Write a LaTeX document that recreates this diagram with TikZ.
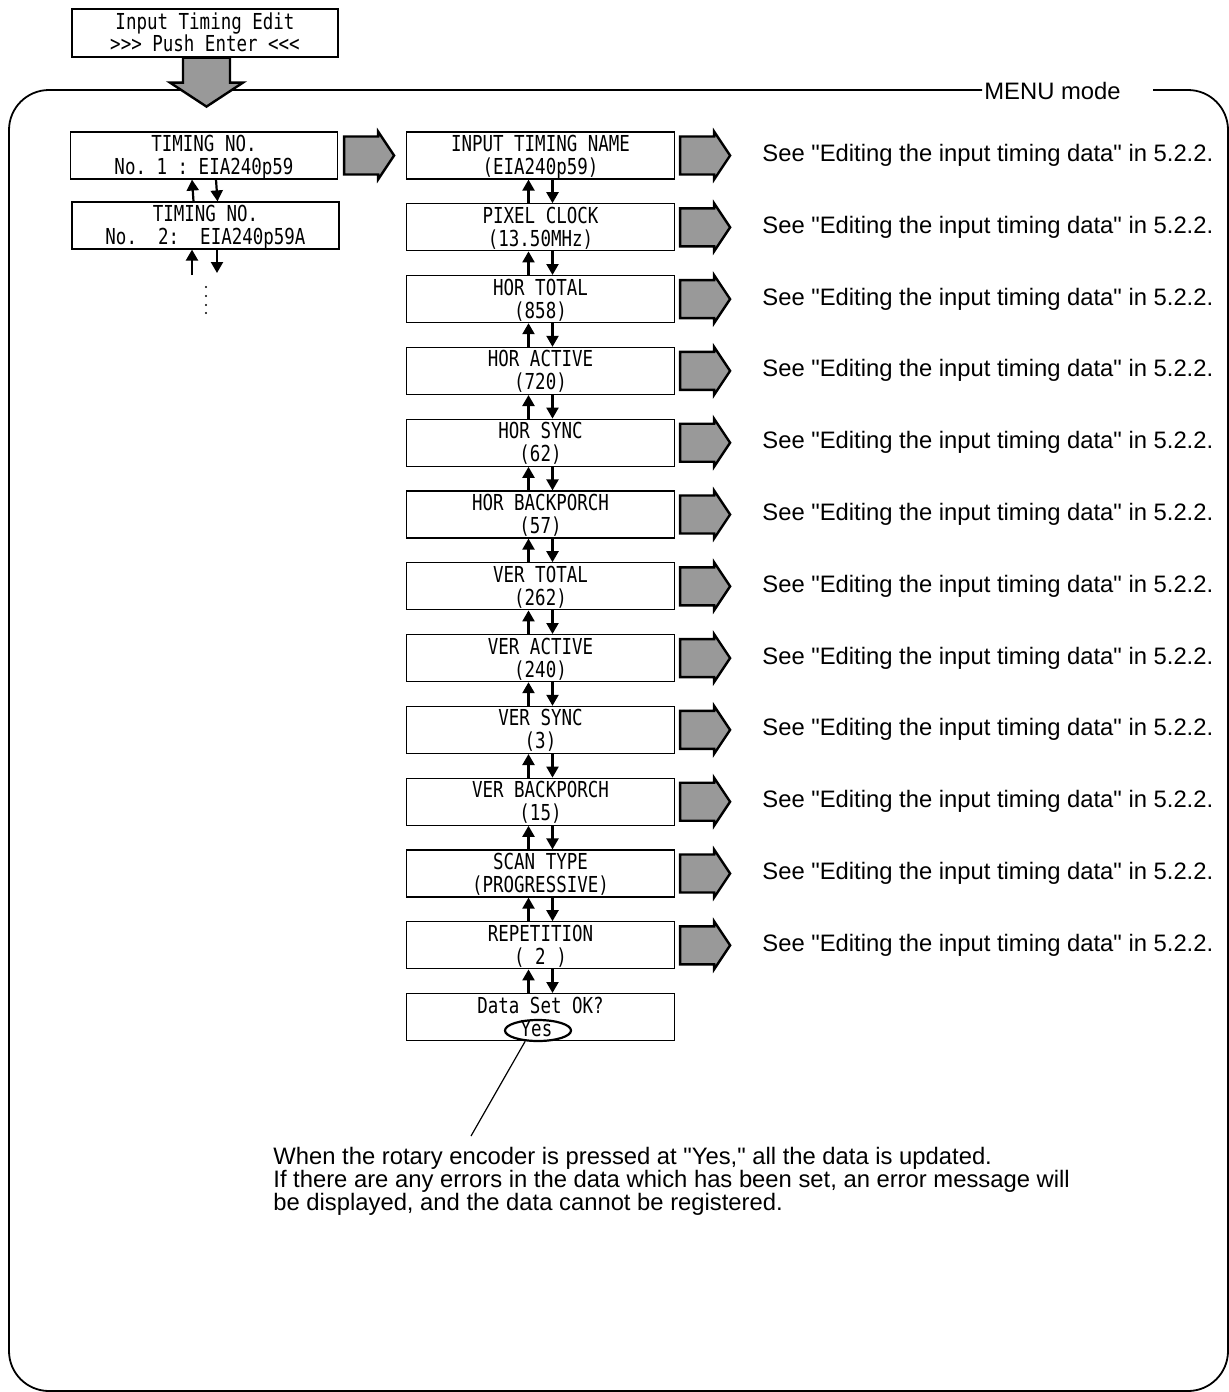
\documentclass[tikz,border=0pt]{standalone}
\usepackage{fontspec}
\setmainfont{Liberation Sans}
\newfontfamily\lcdfont[FakeStretch=0.795]{DejaVu Sans Mono}
\usetikzlibrary{arrows.meta,shapes.geometric,calc}
\definecolor{arrowgray}{RGB}{153,153,153}
\newcommand\qq{\textquotedbl}
\begin{document}
\begin{tikzpicture}[x=0.5pt,y=-0.5pt,
  lcdbox/.style={draw, line width=0.6pt, minimum width=134pt, minimum height=23.5pt, inner sep=0pt},
  lcdtxt/.style={font=\lcdfont\fontsize{11}{12}\selectfont, inner sep=0pt, anchor=base},
  updn/.style={line width=1.1pt, -{Triangle[width=6pt,length=5.5pt]}},
  garrow/.style={fill=arrowgray, draw=black, line width=1.2pt, line join=miter},
  seetxt/.style={font=\fontsize{11.9}{14}\selectfont, inner sep=0pt, anchor=base west},
  frame/.style={line width=0.9pt, rounded corners=20pt},
]
\useasboundingbox (0,0) rectangle (1229,1392);

% frame
\draw[frame] (1153,90) -- (1228,90) -- (1228,1391) -- (9,1391) -- (9,90) -- (982,90);
\node[seetxt] (menu) at (984,99) {MENU mode};

% top box
\node[lcdbox, minimum width=133pt, minimum height=24pt] (topbox) at (205,33) {};
\node[lcdtxt] (topbox-a) at ($(topbox.north)+(0,21)$) {Input Timing Edit};
\node[lcdtxt] (topbox-b) at ($(topbox.north)+(0,43)$) {>{}>{}> Push Enter <{}<{}<};
\draw[garrow] ($(topbox.south)+(-22,0)$) -- ++(0,25) -- ++(-13,0) -- ++(36.5,24) -- ++(36.5,-24) -- ++(-13,0) -- ++(0,-25) -- cycle;

% timing column
\node[lcdbox, minimum width=133.5pt] (t1) at (204,155.5) {};
\node[lcdtxt] (t1-a) at ($(t1.north)+(0,20)$) {TIMING NO.};
\node[lcdtxt] (t1-b) at ($(t1.north)+(0,43)$) {No.\ 1\ :\ EIA240p59};
\node[lcdbox, minimum width=133.5pt] (t2) at (205.5,225.5) {};
\node[lcdtxt] (t2-a) at ($(t2.north)+(0,20)$) {TIMING NO.};
\node[lcdtxt] (t2-b) at ($(t2.north)+(0,43)$) {No.\ \ 2:\ \ EIA240p59A};
\draw[updn] ([xshift=-6pt]t2.north) -- ([xshift=-6pt]t1.south);
\draw[updn] ([xshift=6pt]t1.south) -- ([xshift=6pt]t2.north);
\coordinate (tu) at (192,275);
\coordinate (td) at (217,273);
\draw[updn] (tu) -- (tu |- t2.south);
\draw[updn] (td |- t2.south) -- (td);
\foreach \yy in {287,296,305,313} \fill (206,\yy) circle (0.6pt);

% gray arrow from timing to menu
\draw[garrow] ($(t1.east)+(6,-19)$) -- ++(34,0) -- ++(0,-5) -- ++(16,24) -- ++(-16,24) -- ++(0,-5) -- ++(-34,0) -- cycle;

% menu column
\foreach \i/\a/\b in {0/INPUT TIMING NAME/(EIA240p59),1/PIXEL CLOCK/(13.50MHz),2/HOR TOTAL/(858),3/HOR ACTIVE/(720),4/HOR SYNC/(62),5/HOR BACKPORCH/(57),6/VER TOTAL/(262),7/VER ACTIVE/(240),8/VER SYNC/(3),9/VER BACKPORCH/(15),10/SCAN TYPE/(PROGRESSIVE),11/REPETITION/( 2 )}{
  \node[lcdbox] (m\i) at (540.5,{155.5+71.8*\i}) {};
  \node[lcdtxt] (m\i-a) at ($(m\i.north)+(0,20)$) {\a};
  \node[lcdtxt] (m\i-b) at ($(m\i.north)+(0,43)$) {\b};
  \node[seetxt] (s\i) at ($(m\i.center)+(221.5,6)$) {See \qq Editing the input timing data\qq{} in 5.2.2.};
  \draw[garrow] ($(m\i.east)+(5,-19)$) -- ++(34,0) -- ++(0,-5) -- ++(16,24) -- ++(-16,24) -- ++(0,-5) -- ++(-34,0) -- cycle;
}
\node[lcdbox] (m12) at (540.5,{155.5+71.8*12}) {};
\node[lcdtxt] (m12-a) at ($(m12.north)+(0,20)$) {Data Set OK?};
\node[lcdtxt] (m12-b) at ($(m12.north)+(-4,43)$) {Yes};
\node[ellipse, draw, line width=1.1pt, minimum width=33pt, minimum height=10.5pt, inner sep=0pt] (yesmark) at (538,1030.5) {};

\foreach \i [evaluate=\i as \j using int(\i+1)] in {0,...,11}{
  \draw[updn] ([xshift=-6pt]m\j.north) -- ([xshift=-6pt]m\i.south);
  \draw[updn] ([xshift=6pt]m\i.south) -- ([xshift=6pt]m\j.north);
}

% note
\coordinate (lead) at (471,1136);
\draw[line width=0.6pt] (yesmark.220) -- (lead);
\node[seetxt] (n1) at (273,1164) {When the rotary encoder is pressed at \qq Yes,\qq{} all the data is updated.};
\node[seetxt] (n2) at (273,1187) {If there are any errors in the data which has been set, an error message will};
\node[seetxt] (n3) at (273,1210) {be displayed, and the data cannot be registered.};
\end{tikzpicture}
\end{document}
